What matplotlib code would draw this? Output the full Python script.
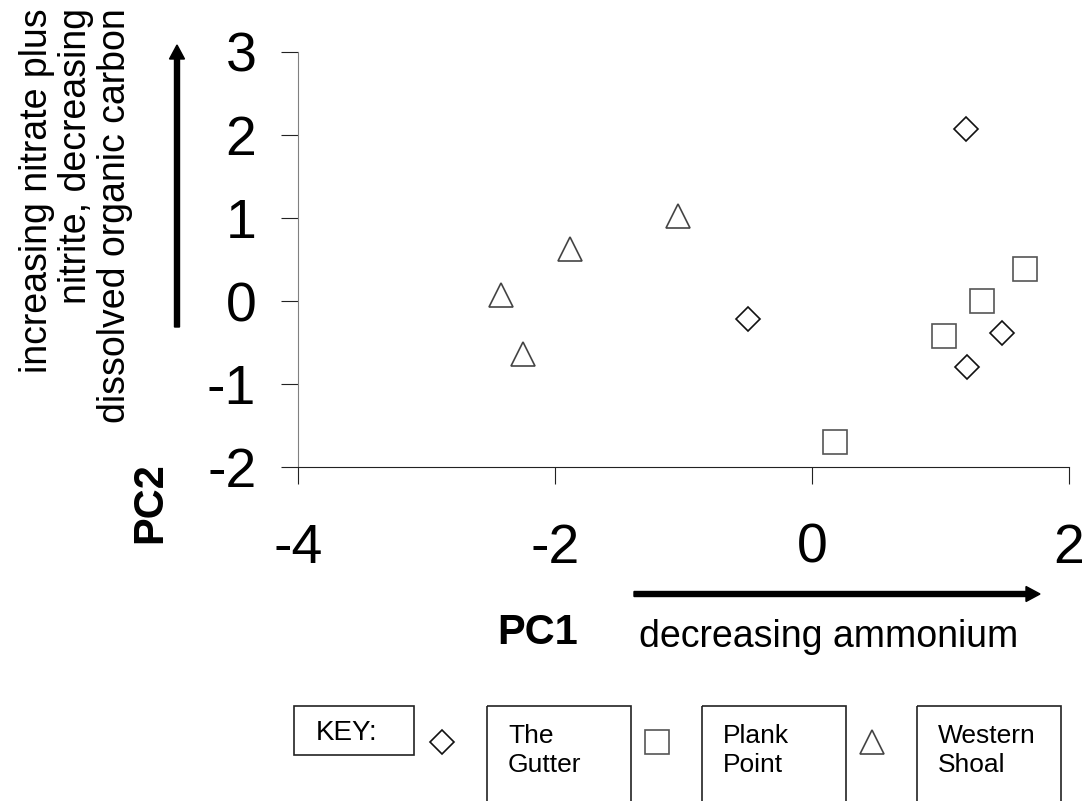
import matplotlib
matplotlib.use("Agg")
import matplotlib.pyplot as plt
import matplotlib.transforms as mtransforms
from matplotlib.patches import Rectangle, FancyArrow
from matplotlib.lines import Line2D

plt.rcParams["font.family"] = ["Liberation Sans", "DejaVu Sans"]
plt.rcParams["axes.unicode_minus"] = False

# PCA scores
gutter_pc1 = [1.20, 1.48, 1.21, -0.50]
gutter_pc2 = [2.07, -0.38, -0.80, -0.22]
plank_pc1 = [1.66, 1.32, 1.03, 0.18]
plank_pc2 = [0.39, 0.00, -0.42, -1.70]
shoal_pc1 = [-2.42, -2.25, -1.88, -1.04]
shoal_pc2 = [0.07, -0.64, 0.63, 1.02]

x_ticks = [-4, -2, 0, 2]
y_ticks = [-2, -1, 0, 1, 2, 3]
site_names = ["The\nGutter", "Plank\nPoint", "Western\nShoal"]

W, H = 1087, 801
fig = plt.figure(figsize=(W / 100, H / 100), dpi=100)
# pixel coordinates, origin at top-left
pix = mtransforms.Affine2D().scale(1 / W, -1 / H).translate(0, 1) + fig.transFigure

ax = fig.add_axes([298 / W, 1 - 467 / H, (1069 - 298) / W, (467 - 52) / H])
ax.set_xlim(-4, 2)
ax.set_ylim(-2, 3)
ax.spines["top"].set_visible(False)
ax.spines["right"].set_visible(False)
ax.spines["left"].set_color("#808080")
ax.spines["bottom"].set_color("#222222")
for s in ("left", "bottom"):
    ax.spines[s].set_linewidth(0.8)
ax.set_xticks(x_ticks)
ax.set_xticklabels([str(v) for v in x_ticks])
ax.set_yticks(y_ticks)
ax.set_yticklabels([str(v) for v in y_ticks])
ax.tick_params(axis="x", direction="out", length=12, width=0.8, color="#222222",
               labelsize=40, pad=28)
ax.tick_params(axis="y", direction="out", length=12, width=0.8, color="#222222",
               labelsize=40, pad=18)

styles = {
    "gutter": dict(marker="D", ms=12.2, mec="#111111"),
    "plank": dict(marker="s", ms=17.5, mec="#555555"),
    "shoal": dict(marker="^", ms=17.5, mec="#444444"),
}
ax.plot(gutter_pc1, gutter_pc2, ls="none", mfc="white", mew=1.2, clip_on=False,
        **styles["gutter"])
ax.plot(plank_pc1, plank_pc2, ls="none", mfc="white", mew=1.2, clip_on=False,
        **styles["plank"])
ax.plot(shoal_pc1, shoal_pc2, ls="none", mfc="white", mew=1.2, clip_on=False,
        **styles["shoal"])

# axis titles and direction arrows
fig.text(538, 633, "PC1", transform=pix, fontsize=30, fontweight="bold",
         ha="center", va="center")
fig.text(150, 503, "PC2", transform=pix, fontsize=30, fontweight="bold",
         ha="center", va="center", rotation=90)
fig.text(829, 637, "decreasing ammonium", transform=pix, fontsize=27,
         ha="center", va="center")
ylab_lines = ["increasing nitrate plus", "nitrite, decreasing",
              "dissolved organic carbon"]
for i, line in enumerate(ylab_lines):
    fig.text(47 + 39 * i, 8, line, transform=pix, fontsize=27, rotation=90,
             rotation_mode="anchor", ha="right", va="baseline")

fig.add_artist(FancyArrow(634, 594, 406, 0, width=5, head_width=15,
                          head_length=14, length_includes_head=True,
                          color="black", transform=pix))
fig.add_artist(FancyArrow(177, 327, 0, -282, width=5, head_width=15,
                          head_length=14, length_includes_head=True,
                          color="black", transform=pix))

# key
fig.add_artist(Rectangle((294, 706), 120, 49, fill=False, ec="#222222", lw=1.2,
                         transform=pix))
fig.text(316, 733, "KEY:", transform=pix, fontsize=20, ha="left", va="center")
key_marks = ["gutter", "plank", "shoal"]
for i, (name, key) in enumerate(zip(site_names, key_marks)):
    bx = 487 + 215 * i
    fig.add_artist(Line2D([bx - 45], [742], ls="none", mfc="white", mew=1.2,
                          transform=pix, **styles[key]))
    fig.add_artist(Rectangle((bx, 706), 144, 130, fill=False, ec="#222222",
                             lw=1.2, transform=pix))
    for j, part in enumerate(name.split("\n")):
        fig.text(bx + 21, 743 + 29 * j, part, transform=pix, fontsize=19,
                 ha="left", va="baseline")

fig.savefig("out.png", dpi=100)
